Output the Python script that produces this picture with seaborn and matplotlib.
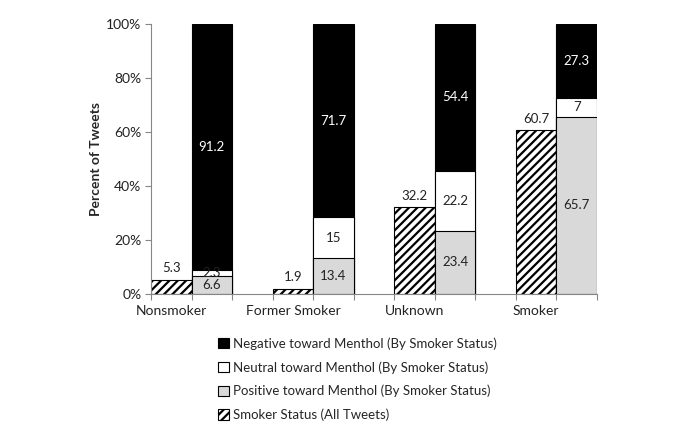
import matplotlib
matplotlib.use("Agg")
import matplotlib.pyplot as plt
from matplotlib.patches import Patch
import seaborn as sns
import pandas as pd
import numpy as np

categories = ["Nonsmoker", "Former Smoker", "Unknown", "Smoker"]
smoker_status = [5.3, 1.9, 32.2, 60.7]
positive = [6.6, 13.4, 23.4, 65.7]
neutral = [2.3, 15, 22.2, 7]
negative = [91.2, 71.7, 54.4, 27.3]
y_ticks = [0, 20, 40, 60, 80, 100]
y_tick_labels = ["0%", "20%", "40%", "60%", "80%", "100%"]
legend_labels = ["Negative toward Menthol (By Smoker Status)",
                 "Neutral toward Menthol (By Smoker Status)",
                 "Positive toward Menthol (By Smoker Status)",
                 "Smoker Status (All Tweets)"]

sns.set_theme(style="white")
plt.rcParams["font.family"] = ["Lato", "DejaVu Sans"]
plt.rcParams["hatch.linewidth"] = 1.6

fig = plt.figure(figsize=(6.99, 4.25), dpi=100)
ax = fig.add_axes([151 / 699, 1 - 294 / 425, (597 - 151) / 699, (294 - 24) / 425])

n = len(categories)
slots = [f"s{i}" for i in range(3 * n - 1)]
hat_slots = [slots[3 * i] for i in range(n)]
stk_slots = [slots[3 * i + 1] for i in range(n)]

pos = np.array(positive)
neu = np.array(neutral)
neg = np.array(negative)

df_h = pd.DataFrame({"slot": hat_slots, "val": smoker_status})
df_neg = pd.DataFrame({"slot": stk_slots, "val": pos + neu + neg})
df_neu = pd.DataFrame({"slot": stk_slots, "val": pos + neu})
df_pos = pd.DataFrame({"slot": stk_slots, "val": pos})

kw = dict(x="slot", y="val", order=slots, width=1.0, edgecolor="black",
          linewidth=0.8, ax=ax, errorbar=None, saturation=1)
sns.barplot(data=df_h, color="white", hatch="////", **kw)
sns.barplot(data=df_neg, color="black", **kw)
sns.barplot(data=df_neu, color="white", **kw)
sns.barplot(data=df_pos, color="#d9d9d9", **kw)

fs = 9.5
for i in range(n):
    xh = 3 * i
    xs = 3 * i + 1
    ax.text(xh, smoker_status[i] + 2, f"{smoker_status[i]:g}", ha="center", va="bottom",
            fontsize=fs, color="#222222")
    ax.text(xs, pos[i] / 2, f"{pos[i]:g}", ha="center", va="center", fontsize=fs, color="#222222")
    ax.text(xs, pos[i] + neu[i] / 2, f"{neu[i]:g}", ha="center", va="center", fontsize=fs, color="#222222")
    ax.text(xs, pos[i] + neu[i] + (100 - pos[i] - neu[i]) / 2, f"{neg[i]:g}", ha="center",
            va="center", fontsize=fs, color="white")

ax.set_xlim(-0.5, len(slots) - 0.5)
ax.set_ylim(0, 100)
ax.set_xticks(np.arange(-0.5, len(slots), 1.0))
ax.set_xticklabels([])
ax.set_xticks([3 * i for i in range(n)], minor=True)
ax.set_xticklabels(categories, minor=True, fontsize=10, color="#222222")
ax.tick_params(axis="x", which="major", length=4, width=0.8, color="#868686", direction="out", bottom=True)
ax.tick_params(axis="x", which="minor", length=0, pad=8)
ax.set_yticks(y_ticks)
ax.set_yticklabels(y_tick_labels, fontsize=10, color="#222222")
ax.tick_params(axis="y", length=4, width=0.8, color="#868686", direction="out", left=True, pad=3)
ax.set_xlabel("")
ax.set_ylabel("Percent of Tweets", fontsize=10, fontweight="bold", labelpad=3)
for s in ["top", "right"]:
    ax.spines[s].set_visible(False)
for s in ["left", "bottom"]:
    ax.spines[s].set_color("#868686")
    ax.spines[s].set_linewidth(0.8)

handles = [Patch(facecolor="black", edgecolor="black", linewidth=0.8),
           Patch(facecolor="white", edgecolor="black", linewidth=0.8),
           Patch(facecolor="#d9d9d9", edgecolor="black", linewidth=0.8),
           Patch(facecolor="white", edgecolor="black", hatch="////", linewidth=0.8)]
fig.legend(handles, legend_labels, loc="upper left", bbox_to_anchor=(213 / 699, 1 - 332 / 425),
           frameon=False, fontsize=9.5, handlelength=0.8, handleheight=0.8, handletextpad=0.3,
           labelspacing=0.85, borderaxespad=0)

fig.savefig("out.png", dpi=100)
